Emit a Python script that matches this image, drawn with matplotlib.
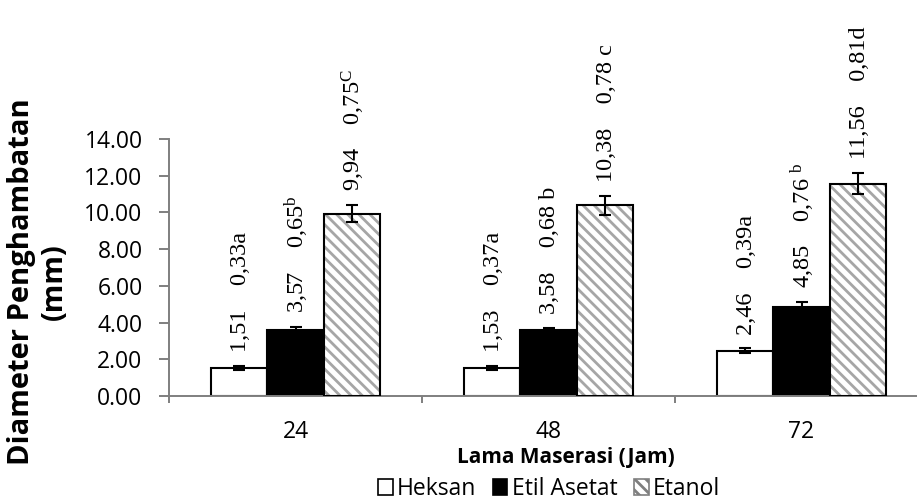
import matplotlib
matplotlib.use("Agg")
import matplotlib.pyplot as plt
import numpy as np
from matplotlib.patches import Patch

# ---- data -------------------------------------------------------------
groups = ["24", "48", "72"]
series = ["Heksan", "Etil Asetat", "Etanol"]

heksan = [1.51, 1.53, 2.46]
etil_asetat = [3.57, 3.58, 4.85]
etanol = [9.94, 10.38, 11.56]

sd_heksan = [0.33, 0.37, 0.39]
sd_etil_asetat = [0.65, 0.68, 0.76]
sd_etanol = [0.75, 0.78, 0.81]

err_heksan = [0.12, 0.12, 0.13]
err_etil_asetat = [0.17, 0.15, 0.27]
err_etanol = [0.45, 0.51, 0.58]

notation_heksan = ["a", "a", "a"]
notation_etil_asetat = [r"$^{\mathrm{b}}$", " b", r" $^{\mathrm{b}}$"]
notation_etanol = [r"$^{\mathrm{C}}$", " c", "d"]

y_ticks = [0, 2, 4, 6, 8, 10, 12, 14]

# ---- style ------------------------------------------------------------
plt.rcParams["font.family"] = ["Open Sans", "DejaVu Sans"]
plt.rcParams["mathtext.fontset"] = "custom"
plt.rcParams["mathtext.rm"] = "Liberation Serif"
plt.rcParams["mathtext.it"] = "Liberation Serif:italic"
plt.rcParams["mathtext.bf"] = "Liberation Serif:bold"
plt.rcParams["hatch.linewidth"] = 2.0

W, H = 917, 503
fig = plt.figure(figsize=(W / 100, H / 100), dpi=100)
ax = fig.add_axes([169 / W, (H - 396) / H, (928 - 169) / W, 257 / H])

axis_grey = "#7f7f7f"
hatch_grey = "#a6a6a6"
x = np.arange(len(groups))
bw = 0.222

# bars
ax.bar(x - bw, heksan, bw, color="white", edgecolor="black", linewidth=1.5, zorder=2)
ax.bar(x, etil_asetat, bw, color="black", edgecolor="black", linewidth=1.5, zorder=2)
ax.bar(x + bw, etanol, bw, color="white", edgecolor=hatch_grey, hatch="\\\\\\",
       linewidth=0, zorder=2)
ax.bar(x + bw, etanol, bw, fill=False, edgecolor="black", linewidth=1.5, zorder=3)

# error bars
for off, vals, errs in [(-bw, heksan, err_heksan), (0, etil_asetat, err_etil_asetat),
                        (bw, etanol, err_etanol)]:
    ax.errorbar(x + off, vals, yerr=errs, fmt="none", ecolor="black",
                elinewidth=1.5, capsize=4.5, capthick=1.5, zorder=4)


def fmt(v):
    return f"{v:.2f}".replace(".", ",")


# value annotations above each bar
for off, vals, errs, sds, notes in [
    (-bw, heksan, err_heksan, sd_heksan, notation_heksan),
    (0, etil_asetat, err_etil_asetat, sd_etil_asetat, notation_etil_asetat),
    (bw, etanol, err_etanol, sd_etanol, notation_etanol),
]:
    for i in range(len(groups)):
        label = fmt(vals[i]) + "    " + fmt(sds[i]) + notes[i]
        ax.annotate(label, xy=(x[i] + off, vals[i] + errs[i]), xytext=(1, 10),
                    textcoords="offset points", rotation=90, ha="center",
                    va="bottom", family="Liberation Serif", fontsize=17.5,
                    annotation_clip=False, zorder=5)

# axes
ax.set_xlim(-0.5, len(groups) - 0.5)
ax.set_ylim(0, 14)
ax.set_yticks(y_ticks)
ax.set_yticklabels([f"{t:.2f}" for t in y_ticks])
ax.set_xticks(np.arange(len(groups) + 1) - 0.5)
ax.set_xticklabels([])
ax.set_xticks(x, minor=True)
ax.set_xticklabels(groups, minor=True)

for s in ["top", "right"]:
    ax.spines[s].set_visible(False)
for s in ["left", "bottom"]:
    ax.spines[s].set_color(axis_grey)
    ax.spines[s].set_linewidth(1.4)

ax.tick_params(axis="y", direction="out", length=7, width=1.4, color=axis_grey,
               labelsize=16.5, pad=12)
ax.tick_params(axis="x", which="major", direction="out", length=5, width=1.4,
               color=axis_grey)
ax.tick_params(axis="x", which="minor", length=0, labelsize=16.5, pad=17)

# axis titles
fig.text(38 / W, 1 - 282 / H, "Diameter Penghambatan\n(mm)", rotation=90,
         ha="center", va="center", multialignment="center", fontsize=21,
         fontweight="bold", linespacing=1.15)
fig.text(566 / W, 1 - 458 / H, "Lama Maserasi (Jam)", ha="center", va="center",
         fontsize=15, fontweight="bold")

# legend
handles = [
    Patch(facecolor="white", edgecolor="black", linewidth=1.2),
    Patch(facecolor="black", edgecolor="black", linewidth=1.2),
    Patch(facecolor="white", edgecolor=axis_grey, hatch="\\\\\\", linewidth=1.2),
]
fig.legend(handles, series, loc="center", bbox_to_anchor=(549 / W, 1 - 489 / H),
           ncol=3, frameon=False, fontsize=16.5, handlelength=0.65, handleheight=0.65,
           handletextpad=0.2, columnspacing=0.7, borderaxespad=0, borderpad=0)

fig.savefig("out.png", dpi=100)
